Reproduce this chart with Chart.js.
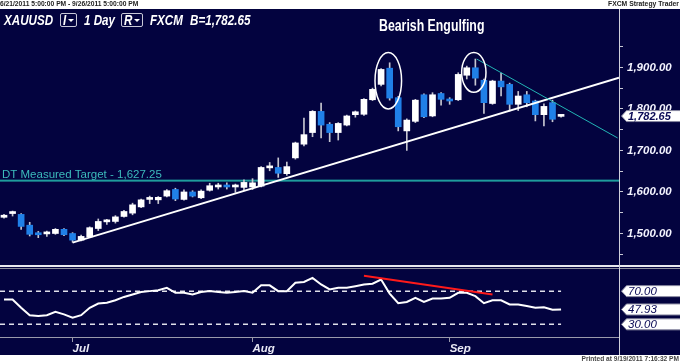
<!DOCTYPE html>
<html><head><meta charset="utf-8">
<script src="https://cdn.jsdelivr.net/npm/chart.js@4.4.0/dist/chart.umd.min.js"></script>
<style>
html,body{margin:0;padding:0;background:#fff;}
body{width:680px;height:363px;position:relative;overflow:hidden;font-family:"Liberation Sans",Arial,sans-serif;}
canvas{position:absolute;left:0;top:0;}
.t{position:absolute;white-space:nowrap;transform-origin:0 0;}
.hb{font:italic bold 14px "Liberation Sans";line-height:14px;color:#fff;top:13px;transform:scaleX(0.83);}
.box{position:absolute;top:13px;height:12px;border:1px solid #c8c8d8;border-radius:2px;}
.tri{position:absolute;width:0;height:0;border-left:3px solid transparent;border-right:3px solid transparent;border-top:3px solid #fff;top:5px;}
</style></head><body>
<canvas id="c" width="680" height="363"></canvas>
<div class="t" style="left:0;top:0;font:bold 6.7px 'Liberation Sans';line-height:7px;color:#222;">6/21/2011 5:00:00 PM - 9/26/2011 5:00:00 PM</div>
<div class="t" style="right:1px;top:0;font:bold 6.8px 'Liberation Sans';line-height:7px;color:#222;">FXCM Strategy Trader</div>
<div class="t" style="right:1px;top:355px;font:bold 6.6px 'Liberation Sans';line-height:7px;color:#444;">Printed at 9/19/2011 7:16:32 PM</div>
<div class="t hb" style="left:4px;">XAUUSD</div>
<div class="box" style="left:60px;width:15px;"><div class="t hb" style="left:2px;top:-1px;">I</div><div class="tri" style="left:7px;"></div></div>
<div class="t hb" style="left:84px;">1 Day</div>
<div class="box" style="left:121px;width:20px;"><div class="t hb" style="left:2px;top:-1px;">R</div><div class="tri" style="left:12px;"></div></div>
<div class="t hb" style="left:150px;">FXCM</div>
<div class="t hb" style="left:190px;">B=1,782.65</div>
<div class="t" style="left:379px;top:18px;font:bold 16px 'Liberation Sans';line-height:16px;color:#fff;transform:scaleX(0.77);">Bearish Engulfing</div>
<script>
// ---- data ----
const dates = ['6/21','6/22','6/23','6/24','6/27','6/28','6/29','6/30',
 '7/1','7/4','7/5','7/6','7/7','7/8','7/11','7/12','7/13','7/14','7/15','7/18','7/19','7/20','7/21','7/22','7/25','7/26','7/27','7/28','7/29',
 '8/1','8/2','8/3','8/4','8/5','8/8','8/9','8/10','8/11','8/12','8/15','8/16','8/17','8/18','8/19','8/22','8/23','8/24','8/25','8/26','8/29','8/30','8/31',
 '9/1','9/2','9/5','9/6','9/7','9/8','9/9','9/12','9/13','9/14','9/15','9/16','9/19','9/20'];
const opens  = [1539,1548,1546,1520,1499,1499,1500,1510,1500,1484,1492,1512,1528,1529,1541,1549,1564,1582,1581,1590,1606,1582,1600,1586,1604,1612,1616,1612,1611,1612,
 1614,1658,1659,1644,1682,1715,1743,1794,1763,1743,1761,1786,1787,1822,1859,1898,1827,1747,1770,1834,1783,1837,1820,1822,1881,1899,1869,1813,1867,1859,1811,1834,1819,1786,1815,1782];
const highs  = [1546,1554,1548,1527,1505,1506,1512,1512,1502,1496,1516,1535,1534,1543,1556,1573,1583,1590,1589,1606,1609,1605,1603,1605,1621,1621,1622,1619,1629,1632,
 1661,1671,1682,1672,1720,1778,1796,1814,1767,1767,1785,1795,1825,1850,1897,1911,1830,1776,1823,1836,1839,1839,1827,1887,1903,1920,1872,1869,1886,1862,1842,1842,1821,1812,1821,1785];
const lows   = [1537,1542,1510,1494,1490,1493,1498,1495,1479,1482,1490,1507,1522,1525,1539,1545,1562,1572,1572,1588,1579,1580,1588,1584,1602,1607,1607,1599,1605,1606,
 1612,1651,1635,1640,1679,1711,1733,1730,1721,1725,1759,1780,1784,1820,1855,1821,1747,1700,1767,1779,1781,1809,1811,1820,1872,1857,1789,1811,1831,1795,1796,1805,1771,1759,1769,1780];
const closes = [1544,1549,1517,1498,1497,1501,1510,1497,1484,1493,1514,1529,1530,1540,1553,1569,1581,1584,1587,1603,1583,1600,1590,1602,1615,1614,1612,1614,1623,1622,
 1659,1660,1645,1661,1718,1738,1794,1761,1743,1765,1783,1793,1823,1847,1895,1826,1757,1773,1821,1781,1834,1823,1819,1883,1899,1874,1815,1867,1853,1811,1831,1815,1786,1806,1775,1782.65];
const rsiValues = [60,60,50,41,40,41,45,42,38,41,50,55,56,59,63,66,69,70,71,74,68,68,66,69,70,69,68,69,70,68,
 77,77,70,70,80,81,86,78,72,74,74,76,78,79,84,67,55.5,57,62,57,61,61,62,68,68,64,55.5,59,59,54,54,52,50,50.5,47.5,47.93];
const priceTicks = [1450,1500,1550,1600,1650,1700,1750,1800,1850,1900,1950];
const priceLabelStep = 100;
const monthTickIndex = [8,29,52];
const monthLabels = ['Jul','Aug','Sep'];
const rsiLevels = [70,30];
const targetLevel = 1627.25;
const supportLine = [[8,1478],[65,1833]];
const resistanceLine = [[55.16,1920],[71.6,1730]];
const rsiTrendLine = [[42,88.4],[57,66]];
const engulfMarks = [[44.84,1867.8,1.55,68],[54.82,1887.8,1.42,48]];

// ---- styles ----
const NAVY = '#03033f';
const BLUE = '#2080e8';
const fmt = v => v.toLocaleString('en-US',{minimumFractionDigits:2,maximumFractionDigits:2});

const idx = dates.map((d,i)=>i);
const bodies = idx.map(i=>({x:i,y:[Math.min(opens[i],closes[i]),Math.max(opens[i],closes[i])]}));
const wicks  = idx.map(i=>({x:i,y:[lows[i],highs[i]]}));
const bodyColors = idx.map(i=> closes[i]>=opens[i] ? '#ffffff' : BLUE);
const rsiPts = idx.map(i=>({x:i,y:rsiValues[i]}));

function tagBox(c, yc, text, font){
  const x0 = 621.5, h = 11;
  c.beginPath();
  c.moveTo(x0, yc); c.lineTo(x0+5, yc-h/2); c.lineTo(681, yc-h/2); c.lineTo(681, yc+h/2); c.lineTo(x0+5, yc+h/2); c.closePath();
  c.fillStyle = '#ffffff'; c.fill();
  c.strokeStyle = '#8888a0'; c.lineWidth = 1; c.stroke();
  c.fillStyle = '#0a0a55'; c.font = font; c.textAlign = 'left'; c.textBaseline = 'middle';
  c.fillText(text, 628, yc+0.5);
}

const overlay = {
  id:'overlay',
  beforeDraw(chart){
    const c = chart.ctx, a = chart.chartArea, y = chart.scales.y, x = chart.scales.x, r = chart.scales.yR;
    c.save();
    c.fillStyle = '#ffffff'; c.fillRect(0,0,680,363);
    c.fillStyle = NAVY; c.fillRect(0,9,680,346);
    // panel separator
    c.fillStyle = '#e8e8ee'; c.fillRect(0,265,680,2);
    c.fillStyle = '#8a8a9a'; c.fillRect(0,268,680,1);
    // target level line
    const ty = y.getPixelForValue(targetLevel);
    c.fillStyle = '#1f9d9d'; c.fillRect(a.left, ty-1, a.right-a.left, 2);
    // RSI dashed levels
    c.strokeStyle = '#e0e0ea'; c.lineWidth = 1.5; c.setLineDash([5,4]);
    const xe = x.getPixelForValue(idx[idx.length-1]);
    rsiLevels.forEach(v=>{ const yy = r.getPixelForValue(v); c.beginPath(); c.moveTo(a.left, yy); c.lineTo(xe, yy); c.stroke(); });
    c.setLineDash([]);
    c.restore();
  },
  afterDatasetsDraw(chart){
    const c = chart.ctx, a = chart.chartArea, y = chart.scales.y, x = chart.scales.x, r = chart.scales.yR;
    c.save();
    c.beginPath(); c.rect(a.left, a.top, a.right-a.left, a.bottom-a.top); c.clip();
    // support line extended to right edge
    const [p0,p1] = supportLine;
    const slope = (p1[1]-p0[1])/(p1[0]-p0[0]);
    const xEnd = x.max;
    c.strokeStyle = '#ffffff'; c.lineWidth = 2;
    c.beginPath(); c.moveTo(x.getPixelForValue(p0[0]), y.getPixelForValue(p0[1]));
    c.lineTo(x.getPixelForValue(xEnd), y.getPixelForValue(p0[1]+slope*(xEnd-p0[0]))); c.stroke();
    // resistance line
    c.strokeStyle = '#22b4b4'; c.lineWidth = 1;
    c.beginPath(); c.moveTo(x.getPixelForValue(resistanceLine[0][0]), y.getPixelForValue(resistanceLine[0][1]));
    c.lineTo(x.getPixelForValue(resistanceLine[1][0]), y.getPixelForValue(resistanceLine[1][1])); c.stroke();
    // ellipses
    c.strokeStyle = '#ffffff'; c.lineWidth = 1.5;
    engulfMarks.forEach(([ix,pv,rx,ry])=>{
      const cx = x.getPixelForValue(ix), cy = y.getPixelForValue(pv);
      const rxp = Math.abs(x.getPixelForValue(ix+rx)-cx), ryp = Math.abs(y.getPixelForValue(pv+ry)-cy);
      c.beginPath(); c.ellipse(cx, cy, rxp, ryp, 0, 0, Math.PI*2); c.stroke();
    });
    // RSI trend line
    c.strokeStyle = '#ff1a1a'; c.lineWidth = 2;
    c.beginPath(); c.moveTo(x.getPixelForValue(rsiTrendLine[0][0]), r.getPixelForValue(rsiTrendLine[0][1]));
    c.lineTo(x.getPixelForValue(rsiTrendLine[1][0]), r.getPixelForValue(rsiTrendLine[1][1])); c.stroke();
    // target label
    const ty = y.getPixelForValue(targetLevel);
    c.fillStyle = '#3cbcbc'; c.font = '11.5px "Liberation Sans"'; c.textAlign = 'left'; c.textBaseline = 'alphabetic';
    c.fillText('DT Measured Target - ' + fmt(targetLevel), a.left+2, ty-3);
    c.restore();
  },
  afterDraw(chart){
    const c = chart.ctx, a = chart.chartArea, y = chart.scales.y, r = chart.scales.yR;
    c.save();
    c.fillStyle = '#d0d0dc'; c.fillRect(a.right, 9, 1, 346);
    tagBox(c, y.getPixelForValue(closes[closes.length-1]), fmt(closes[closes.length-1]), 'italic bold 11px "Liberation Sans"');
    tagBox(c, r.getPixelForValue(rsiLevels[0]), fmt(rsiLevels[0]), 'italic 11.5px "Liberation Sans"');
    tagBox(c, r.getPixelForValue(rsiValues[rsiValues.length-1]), fmt(rsiValues[rsiValues.length-1]), 'italic 11.5px "Liberation Sans"');
    tagBox(c, r.getPixelForValue(rsiLevels[1]), fmt(rsiLevels[1]), 'italic 11.5px "Liberation Sans"');
    c.restore();
  }
};

new Chart(document.getElementById('c'), {
  type:'bar',
  data:{ datasets:[
    {type:'bar', data:bodies, backgroundColor:bodyColors, barThickness:6, grouped:false, minBarLength:2, yAxisID:'y', order:0},
    {type:'bar', data:wicks, backgroundColor:'#c6c6d0', barThickness:1, grouped:false, minBarLength:1, yAxisID:'y', order:1},
    {type:'line', data:rsiPts, borderColor:'#ffffff', borderWidth:2, pointRadius:0, tension:0, yAxisID:'yR', order:2}
  ]},
  options:{
    responsive:false, animation:false, devicePixelRatio:1,
    layout:{padding:{top:10,bottom:8,left:0,right:0}},
    plugins:{legend:{display:false}, tooltip:{enabled:false}},
    scales:{
      x:{type:'linear', min:-0.4667, max:71.76, position:'bottom', offset:false,
        afterBuildTicks:s=>{ s.ticks = monthTickIndex.map(v=>({value:v})); },
        afterFit:s=>{ s.height = 18; },
        ticks:{callback:v=>monthLabels[monthTickIndex.indexOf(v)], align:'start', color:'#e8e8f4',
          font:{family:'Liberation Sans', size:11.5, style:'italic', weight:'bold'}, padding:0, maxRotation:0, autoSkip:false},
        grid:{drawOnChartArea:false, drawTicks:true, tickLength:5, color:'#9a9aac', offset:false},
        border:{display:true, color:'#9a9aac', width:1}
      },
      y:{position:'right', min:1250.8, max:2035.9,
        afterBuildTicks:s=>{ s.ticks = priceTicks.map(v=>({value:v})); },
        afterFit:s=>{ s.width = 61; },
        ticks:{callback:v=> (v % priceLabelStep === 0) ? fmt(v) : '', color:'#f4f4ff',
          font:{family:'Liberation Sans', size:11.5, style:'italic', weight:'bold'}, padding:4, autoSkip:false},
        grid:{drawOnChartArea:false, drawTicks:true, tickLength:4, color:'#c8c8d4'},
        border:{display:false}
      },
      yR:{type:'linear', axis:'y', position:'right', display:false, min:14.75, max:407.5}
    }
  },
  plugins:[overlay]
});
</script>
</body></html>
